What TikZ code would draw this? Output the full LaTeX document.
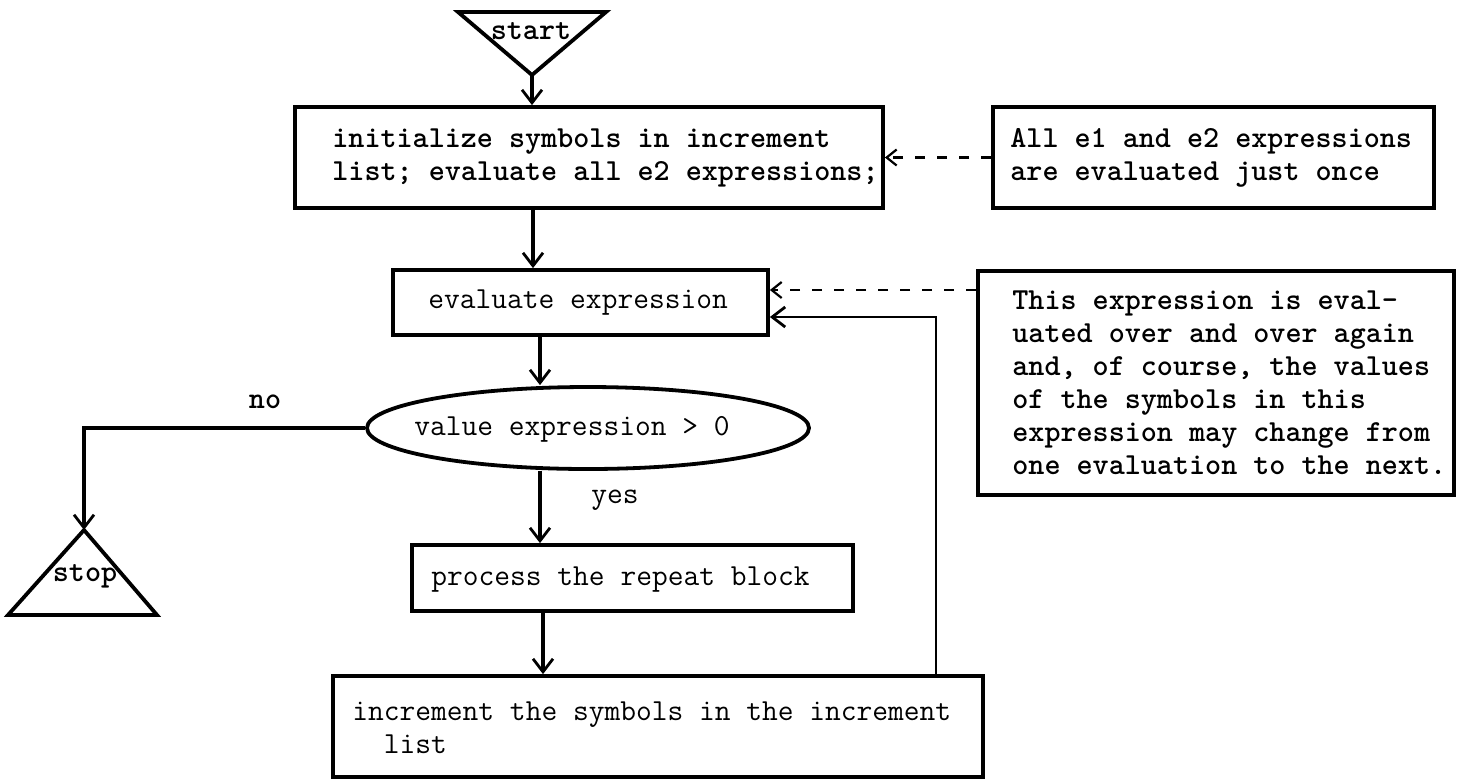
\documentclass[tikz,border=0pt]{standalone}
\usetikzlibrary{shapes.geometric,arrows.meta}
\begin{document}
\begin{tikzpicture}[x=0.5pt,y=-0.5pt]
\tikzset{
  boxst/.style={draw, line width=1.9pt, inner sep=0pt},
  txt/.style={font=\ttfamily\fontsize{15.3}{16.5}\selectfont, inner sep=0pt, anchor=west, align=left},
  btxt/.style={txt, font=\ttfamily\bfseries\fontsize{15.3}{16.5}\selectfont},
  flow/.style={line width=1.6pt, -{Straight Barb[length=6.5pt,width=10pt,line width=1.4pt]}},
  note/.style={line width=1.2pt, dash pattern=on 5pt off 6pt, -{Straight Barb[length=5pt,width=8pt,line width=1.1pt]}},
}
\useasboundingbox (0,0) rectangle (1461,778);

% start triangle
\draw[line width=1.9pt, line join=miter] (458,12) -- (606,12) -- (532,75) -- cycle;
\coordinate (sapex) at (532,75);
\node[btxt, anchor=center] (starttxt) at (531,31) {start};

% boxes
\node[boxst, minimum width=294pt, minimum height=50.5pt] (init) at (589,157.5) {};
\node[btxt] (initt) at (332,158) {initialize symbols in increment\\list; evaluate all e2 expressions;};

\node[boxst, minimum width=220.5pt, minimum height=50.5pt] (c1) at (1213.5,157.5) {};
\node[btxt] (c1t) at (1010,158) {All e1 and e2 expressions\\are evaluated just once};

\node[boxst, minimum width=187.5pt, minimum height=32.5pt] (eval) at (580.5,302.5) {};
\node[txt] (evalt) at (428,303) {evaluate expression};

\node[boxst, minimum width=238pt, minimum height=112pt] (c2) at (1216,383) {};
\node[btxt] (c2t) at (1012,383) {This expression is eval-\\uated over and over again\\and, of course, the values\\of the symbols in this\\expression may change from\\one evaluation to the next.};

\node[draw, ellipse, line width=1.9pt, minimum width=221pt, minimum height=41pt, inner sep=0pt] (dec) at (588,428) {};
\node[txt] (dect) at (414,429) {value expression > 0};

\node[boxst, minimum width=220.5pt, minimum height=33pt] (proc) at (632.5,578) {};
\node[txt] (proct) at (431,580) {process the repeat block};

\node[boxst, minimum width=325pt, minimum height=50.5pt] (inc) at (658,726.5) {};
\node[txt] (inct) at (352,728) {increment the symbols in the increment\\\hphantom{xx}list};

% stop triangle
\draw[line width=1.9pt, line join=miter] (84,530) -- (157,615) -- (8,615) -- cycle;
\coordinate (stapex) at (84,530);
\node[btxt, anchor=center] (stoptxt) at (85,576) {stop};

% labels
\node[btxt, anchor=center] (nolab) at (265,402) {no};
\node[txt, anchor=center] (yeslab) at (615,500) {yes};

% connectors
\coordinate (xa) at (533,0);
\coordinate (xb) at (540,0);
\coordinate (xc) at (543,0);
\coordinate (xl) at (936,0);
\coordinate (yl) at (0,317);
\coordinate (yd) at (0,290);

\draw[flow] (sapex) -- (sapex |- init.north);
\draw[flow] (xa |- init.south) -- (xa |- eval.north);
\draw[flow] (xb |- eval.south) -- (xb |- dec.north);
\draw[flow] (xb |- dec.south) -- (xb |- proc.north);
\draw[flow] (xc |- proc.south) -- (xc |- inc.north);
\draw[flow] (dec.west) -| (stapex);
\draw[flow, line width=1.2pt] (xl |- inc.north) |- (yl -| eval.east);
\draw[note] (c1.west) -- (init.east);
\draw[note] (yd -| c2.west) -- (yd -| eval.east);
\end{tikzpicture}
\end{document}
